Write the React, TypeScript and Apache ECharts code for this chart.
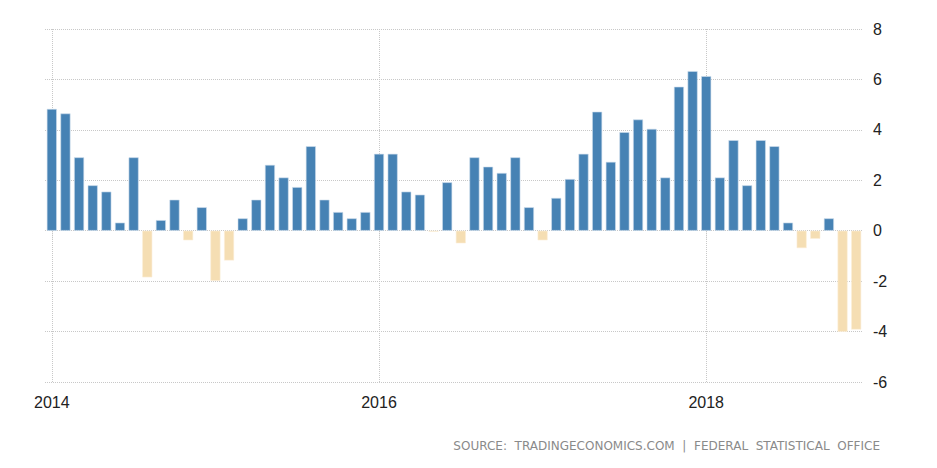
import React, { useEffect, useRef } from "react";
import * as echarts from "echarts";

const years = [2014, 2015, 2016, 2017, 2018];
const months = ["01", "02", "03", "04", "05", "06", "07", "08", "09", "10", "11", "12"];
const categories: string[] = [];
years.forEach((y) => months.forEach((m) => categories.push(`${y}-${m}`)));

const values2014 = [4.83, 4.65, 2.91, 1.8, 1.55, 0.32, 2.91, -1.85, 0.42, 1.23, -0.38, 0.93];
const values2015 = [-1.99, -1.18, 0.49, 1.23, 2.61, 2.11, 1.73, 3.35, 1.23, 0.74, 0.49, 0.74];
const values2016 = [3.05, 3.05, 1.55, 1.43, -0.04, 1.92, -0.5, 2.91, 2.54, 2.29, 2.91, 0.93];
const values2017 = [-0.38, 1.3, 2.05, 3.05, 4.72, 2.73, 3.91, 4.41, 4.04, 2.11, 5.71, 6.33];
const values2018 = [6.13, 2.11, 3.59, 1.8, 3.59, 3.35, 0.32, -0.69, -0.32, 0.49, -4.01, -3.92];
const values = [...values2014, ...values2015, ...values2016, ...values2017, ...values2018];

const yTicks = { min: -6, max: 8, interval: 2 };
const sourceParts = ["SOURCE:", "TRADINGECONOMICS.COM", "|", "FEDERAL", "STATISTICAL", "OFFICE"];

const BLUE = "#4682b4";
const WHEAT = "#f5deb3";
const GRID = "#c8c8c8";
const LABEL_FONT = "Liberation Sans, Arial, sans-serif";

export default function App() {
  const ref = useRef<HTMLDivElement>(null);
  useEffect(() => {
    document.body.style.margin = "0";
    if (!ref.current) return;
    const chart = echarts.init(ref.current, undefined, { renderer: "svg" });
    const isYearTick = (i: number) => i % 24 === 0;
    chart.setOption({
      animation: false,
      backgroundColor: "#ffffff",
      grid: { left: 45, right: 74, top: 29, bottom: 86 },
      xAxis: {
        type: "category",
        data: categories,
        axisLine: { show: false },
        axisTick: {
          show: true,
          alignWithLabel: true,
          interval: (i: number) => isYearTick(i),
          length: 9,
          lineStyle: { color: GRID, type: "dotted" },
        },
        axisLabel: {
          interval: (i: number) => isYearTick(i),
          formatter: (v: string) => v.slice(0, 4),
          color: "#222",
          fontSize: 16,
          fontFamily: LABEL_FONT,
          margin: 12,
        },
        splitLine: { show: false },
      },
      yAxis: {
        type: "value",
        position: "right",
        min: yTicks.min,
        max: yTicks.max,
        interval: yTicks.interval,
        axisLine: { show: false },
        axisTick: { show: false },
        axisLabel: {
          color: "#222",
          fontSize: 16,
          fontFamily: LABEL_FONT,
          margin: 10,
        },
        splitLine: { show: true, lineStyle: { color: GRID, type: "dotted", width: 1 } },
      },
      series: [
        {
          type: "bar",
          barWidth: 10,
          z: 3,
          data: values.map((v) => ({
            value: v,
            itemStyle: {
              color: v >= 0 ? BLUE : WHEAT,
              borderColor: v >= 0 ? "#cfdeec" : "#fbefd9",
              borderWidth: 0.6,
            },
          })),
          markLine: {
            silent: true,
            z: 0,
            symbol: ["none", "none"],
            label: { show: false },
            lineStyle: { color: GRID, type: "dotted", width: 1 },
            data: categories.filter((_, i) => isYearTick(i)).map((c) => ({ xAxis: c })),
          },
        },
      ],
      graphic: [
        {
          type: "text",
          right: 57,
          top: 440,
          style: {
            text: sourceParts.join("\u00a0\u00a0"),
            fill: "#8a8a8a",
            fontSize: 12,
            fontFamily: "DejaVu Sans, sans-serif",
          },
        },
      ],
    });
    return () => chart.dispose();
  }, []);
  return <div ref={ref} style={{ width: 937, height: 468 }} />;
}
